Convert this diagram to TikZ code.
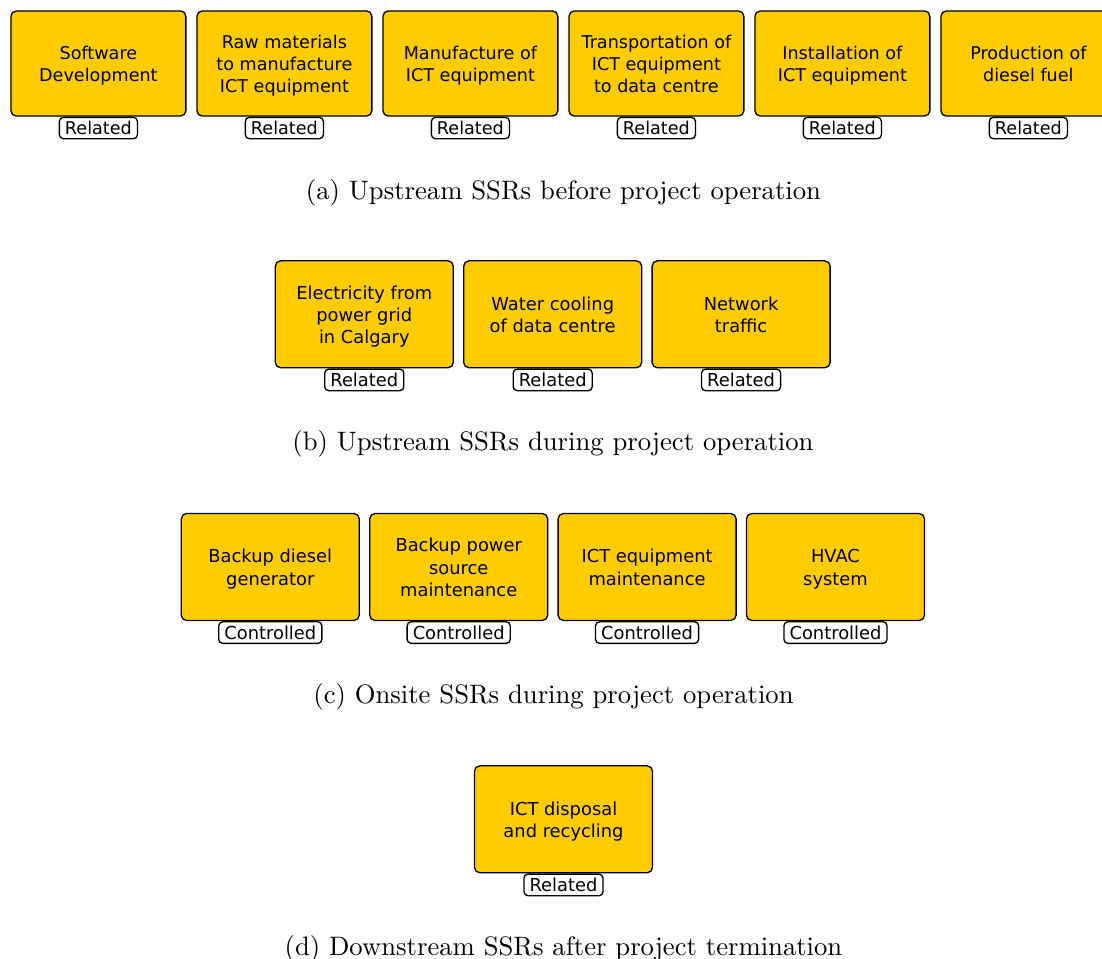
\documentclass[tikz,border=0pt]{standalone}
\usepackage{fontspec}
\newfontfamily\boxfont{DejaVu Sans}
\definecolor{ssryellow}{RGB}{255,204,0}
\newcommand\ssrtext[1]{\raisebox{-1.0pt}[\height][\depth]{\begin{tabular}{@{}c@{}}#1\end{tabular}}}
\tikzset{
  ssrbox/.style={draw=black, fill=ssryellow, line width=0.5pt, rounded corners=2pt,
    inner sep=0pt, minimum width=66.75pt, minimum height=40.1pt,
    font=\boxfont\fontsize{6.7}{8.4}\selectfont},
  ssrboxa/.style={ssrbox, minimum width=65.6pt, minimum height=39.4pt,
    font=\boxfont\fontsize{6.6}{8.25}\selectfont},
  ssrtag/.style={draw=black, fill=white, line width=0.5pt, rounded corners=1.5pt,
    anchor=north, inner xsep=2.1pt, inner ysep=0pt, minimum height=8.1pt,
    text height=5pt, text depth=0pt, font=\boxfont\fontsize{6.7}{8}\selectfont},
  ssrtaga/.style={ssrtag, minimum height=8pt, font=\boxfont\fontsize{6.6}{8}\selectfont},
  ssrcap/.style={anchor=base, inner sep=0pt, font=\normalsize}
}
\begin{document}
\begin{tikzpicture}[x=0.375pt, y=-0.375pt]
\useasboundingbox (0,0) rectangle (1102,959);
% row a
\node[ssrboxa] (a1) at (98.4,63.5) {\ssrtext{Software\\Development}};
\node[ssrboxa] (a2) at (284.4,63.5) {\ssrtext{Raw materials\\to manufacture\\ICT equipment}};
\node[ssrboxa] (a3) at (470.4,63.5) {\ssrtext{Manufacture of\\ICT equipment}};
\node[ssrboxa] (a4) at (656.4,63.5) {\ssrtext{Transportation of\\ICT equipment\\to data centre}};
\node[ssrboxa] (a5) at (842.4,63.5) {\ssrtext{Installation of\\ICT equipment}};
\node[ssrboxa] (a6) at (1028.4,63.5) {\ssrtext{Production of\\diesel fuel}};
\foreach \n in {1,...,6}{\node[ssrtaga] (ta\n) at (a\n.south) {Related};}
\node[ssrcap] (capa) at (563.5,200) {(a) Upstream SSRs before project operation};
% row b
\node[ssrbox] (b1) at (364.3,314.3) {\ssrtext{Electricity from\\power grid\\in Calgary}};
\node[ssrbox] (b2) at (552.7,314.3) {\ssrtext{Water cooling\\of data centre}};
\node[ssrbox] (b3) at (741.1,314.3) {\ssrtext{Network\\traffic}};
\foreach \n in {1,2,3}{\node[ssrtag] (tb\n) at (b\n.south) {Related};}
\node[ssrcap] (capb) at (553,451) {(b) Upstream SSRs during project operation};
% row c
\node[ssrbox] (c1) at (270.3,567) {\ssrtext{Backup diesel\\generator}};
\node[ssrbox] (c2) at (458.7,567) {\ssrtext{Backup power\\source\\maintenance}};
\node[ssrbox] (c3) at (647.1,567) {\ssrtext{ICT equipment\\maintenance}};
\node[ssrbox] (c4) at (835.5,567) {\ssrtext{HVAC\\system}};
\foreach \n in {1,...,4}{\node[ssrtag] (tc\n) at (c\n.south) {Controlled};}
\node[ssrcap] (capc) at (553.5,704) {(c) Onsite SSRs during project operation};
% row d
\node[ssrbox] (d1) at (563.5,819.3) {\ssrtext{ICT disposal\\and recycling}};
\node[ssrtag] (td1) at (d1.south) {Related};
\node[ssrcap] (capd) at (563.5,955) {(d) Downstream SSRs after project termination};
\end{tikzpicture}
\end{document}
